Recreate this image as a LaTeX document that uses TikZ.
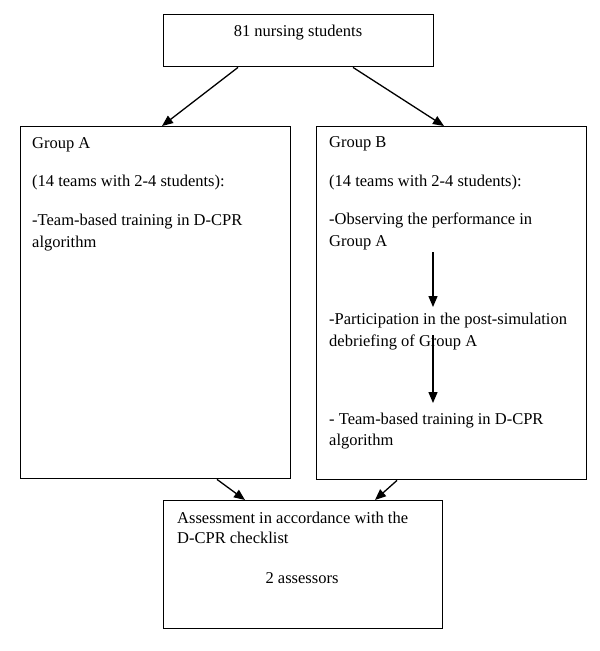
\documentclass[tikz,border=0pt]{standalone}
\usepackage{fontspec}
\setmainfont{Liberation Serif}
\usetikzlibrary{arrows.meta,calc}
\begin{document}
\begin{tikzpicture}[x=1pt,y=-1pt,
  box/.style={draw,line width=1.4pt,rectangle,inner sep=0pt,anchor=north west},
  txt/.style={anchor=base west,inner sep=0pt,font=\fontsize{16.5}{21}\selectfont},
  ctxt/.style={anchor=base,inner sep=0pt,font=\fontsize{16.5}{21}\selectfont},
  arr/.style={line width=1.3pt,-{Triangle[length=11pt,width=9pt]}}]
\useasboundingbox[fill=white] (0,0) rectangle (600,651);
\node[box,minimum width=270pt,minimum height=52pt] (top) at (163,14) {};
\node[box,minimum width=270pt,minimum height=352pt] (ga) at (20,126) {};
\node[box,minimum width=270pt,minimum height=353pt] (gb) at (316,126) {};
\node[box,minimum width=279pt,minimum height=128pt] (bot) at (163,500) {};
% texts
\node[ctxt] (t0) at (298,36) {81 nursing students};
\node[txt] (a1) at (32,148) {Group A};
\node[txt] (a2) at (32,186) {(14 teams with 2-4 students):};
\node[txt] (a3) at (32,225) {-Team-based training in D-CPR};
\node[txt] (a4) at (32,247) {algorithm};
\node[txt] (b1) at (329,147) {Group B};
\node[txt] (b2) at (329,186) {(14 teams with 2-4 students):};
\node[txt] (b3) at (329,224) {-Observing the performance in};
\node[txt] (b4) at (329,246) {Group A};
\node[txt] (b5) at (329,324) {-Participation in the post-simulation};
\node[txt] (b6) at (329,346) {debriefing of Group A};
\node[txt] (b7) at (329,424) {- Team-based training in D-CPR};
\node[txt] (b8) at (329,445) {algorithm};
\node[txt] (c1) at (177,523) {Assessment in accordance with the};
\node[txt] (c2) at (177,543) {D-CPR checklist};
\node[ctxt] (c3) at (302,583) {2 assessors};
% arrows
\draw[arr] ($(top.south west)+(75,0)$) -- ($(ga.north west)+(142,0)$);
\draw[arr] ($(top.south west)+(190,0)$) -- ($(gb.north west)+(128,0)$);
\draw[arr] ($(gb.north west)+(117,126)$) -- ($(gb.north west)+(117,181)$);
\draw[arr] ($(gb.north west)+(117,209)$) -- ($(gb.north west)+(117,277)$);
\draw[arr] ($(ga.south west)+(197,0)$) -- ($(bot.north west)+(82,0)$);
\draw[arr] ($(gb.south west)+(81,0)$) -- ($(bot.north west)+(212,0)$);
\end{tikzpicture}
\end{document}
